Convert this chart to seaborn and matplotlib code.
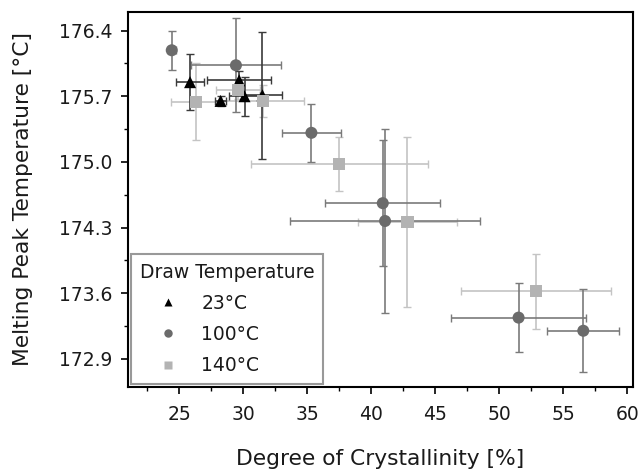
import matplotlib
matplotlib.use("Agg")
import matplotlib.pyplot as plt
import seaborn as sns
import pandas as pd
import numpy as np
from matplotlib.ticker import MultipleLocator, FixedLocator

# 23 °C
x23 = [25.86, 28.24, 29.69, 30.11, 31.51]
y23 = [175.85, 175.65, 175.87, 175.70, 175.71]
xe23 = [1.1, 0.4, 2.5, 1.2, 1.5]
ye23 = [0.30, 0.05, 0.10, 0.21, 0.68]

# 100 °C
x100 = [24.43, 29.44, 35.33, 40.90, 41.08, 51.50, 56.55]
y100 = [176.19, 176.03, 175.31, 174.56, 174.37, 173.34, 173.20]
xe100 = [0.3, 3.5, 2.3, 4.5, 7.4, 5.3, 2.8]
ye100 = [0.21, 0.50, 0.31, 0.67, 0.98, 0.37, 0.44]

# 140 °C
x140 = [26.30, 29.60, 31.56, 37.50, 42.83, 52.86]
y140 = [175.64, 175.77, 175.65, 174.98, 174.36, 173.62]
xe140 = [1.9, 1.7, 3.2, 6.9, 3.9, 5.85]
ye140 = [0.41, 0.10, 0.17, 0.29, 0.91, 0.40]

labels = ["23°C", "100°C", "140°C"]
yticks = [172.9, 173.6, 174.3, 175.0, 175.7, 176.4]
xticks = [25, 30, 35, 40, 45, 50, 55, 60]

sns.set_theme(style="ticks")
plt.rcParams['font.family'] = ['DejaVu Sans']
txt = "#1a1a1a"
plt.rcParams['text.color'] = txt
plt.rcParams['axes.labelcolor'] = txt
plt.rcParams['xtick.color'] = "black"
plt.rcParams['ytick.color'] = "black"
plt.rcParams['xtick.labelcolor'] = txt
plt.rcParams['ytick.labelcolor'] = txt

df = pd.concat([
    pd.DataFrame({"x": x23, "y": y23, "T": labels[0]}),
    pd.DataFrame({"x": x100, "y": y100, "T": labels[1]}),
    pd.DataFrame({"x": x140, "y": y140, "T": labels[2]}),
])

fig = plt.figure(figsize=(6.39, 4.72), dpi=100)
ax = fig.add_axes([0.200, 0.180, 0.791, 0.795])

marker_col = {labels[0]: "#000000", labels[1]: "#6b6b6b", labels[2]: "#b3b3b3"}
err_col = {labels[0]: "#3a3a3a", labels[1]: "#7a7a7a", labels[2]: "#c4c4c4"}
markers = {labels[0]: "^", labels[1]: "o", labels[2]: "s"}

for lab, xs, ys, xe, ye in [(labels[2], x140, y140, xe140, ye140),
                            (labels[1], x100, y100, xe100, ye100),
                            (labels[0], x23, y23, xe23, ye23)]:
    ax.errorbar(xs, ys, xerr=xe, yerr=ye, fmt="none", ecolor=err_col[lab],
                elinewidth=1.2, capsize=3, capthick=1.0, zorder=2)

sns.scatterplot(data=df, x="x", y="y", hue="T", style="T",
                palette=marker_col, markers=markers, s=75,
                edgecolor="none", ax=ax, zorder=3)

ax.set_xlim(21.0, 60.45)
ax.set_ylim(172.6, 176.6)
ax.xaxis.set_major_locator(FixedLocator(xticks))
ax.xaxis.set_minor_locator(MultipleLocator(2.5))
ax.yaxis.set_major_locator(FixedLocator(yticks))
ax.yaxis.set_minor_locator(MultipleLocator(0.35))
ax.set_yticklabels([f"{v:.1f}" for v in yticks])
ax.tick_params(axis="x", which="major", pad=8)
ax.tick_params(axis="y", which="major", pad=6)
ax.tick_params(axis="both", which="major", direction="out", length=5, width=1.2,
               labelsize=13.5, top=False, right=False)
ax.tick_params(axis="both", which="minor", direction="out", length=3, width=1.0,
               top=False, right=False)
for sp in ax.spines.values():
    sp.set_linewidth(1.5)
    sp.set_color("black")

ax.set_xlabel("Degree of Crystallinity [%]", fontsize=15.7, labelpad=18)
ax.set_ylabel("Melting Peak Temperature [°C]", fontsize=15.7, labelpad=19)

leg = ax.legend(title="Draw Temperature", loc="lower left", fontsize=13.5,
                title_fontsize=13.5, frameon=True, fancybox=False,
                borderaxespad=0.18, handletextpad=0.3, labelspacing=0.65,
                markerscale=0.7, borderpad=0.45, handlelength=3.0)
leg.get_frame().set_edgecolor("#808080")
leg.get_frame().set_linewidth(1.5)
leg._legend_box.align = "left"
for t in leg.get_texts():
    t.set_color(txt)
leg.get_title().set_color(txt)

fig.savefig("out.png", dpi=100)
